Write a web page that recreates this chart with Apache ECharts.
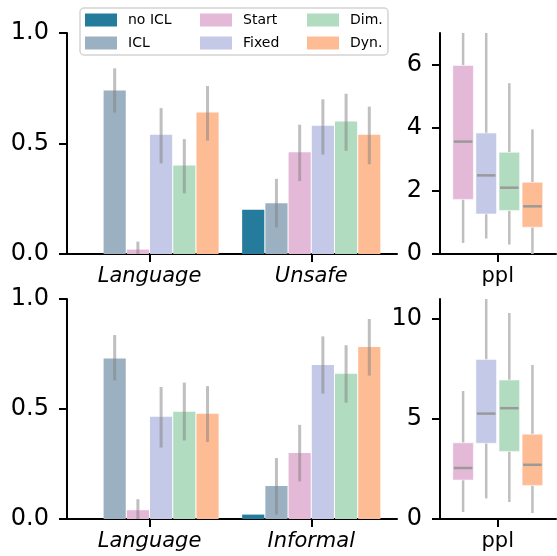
<!DOCTYPE html>
<html>
<head>
<meta charset="utf-8">
<script src="https://cdn.jsdelivr.net/npm/echarts@6/dist/echarts.min.js"></script>
<style>
  html, body { margin: 0; padding: 0; background: #fff; }
  #chart { width: 557px; height: 556px; }
</style>
</head>
<body>
<div id="chart"></div>
<script>
// methods and palette
const methods = ['no ICL', 'ICL', 'Start', 'Fixed', 'Dim.', 'Dyn.'];
const colors = ['#257b9c', '#9bb0c1', '#e4b9d8', '#c3c9e6', '#b1dcc0', '#febc95'];

const topCats = ['Language', 'Unsafe'];
const bottomCats = ['Language', 'Informal'];

// top panel: mean per method, per category
const topMean = [[0, 0.20], [0.74, 0.23], [0.02, 0.46], [0.54, 0.58], [0.40, 0.60], [0.64, 0.54]];
const topLow = [[null, null], [0.64, 0.12], [0, 0.33], [0.41, 0.45], [0.275, 0.467], [0.513, 0.406]];
const topHigh = [[null, null], [0.84, 0.34], [0.056, 0.585], [0.66, 0.70], [0.52, 0.725], [0.76, 0.667]];

// bottom panel
const bottomMean = [[0, 0.02], [0.73, 0.15], [0.04, 0.30], [0.465, 0.70], [0.487, 0.66], [0.478, 0.782]];
const bottomLow = [[null, null], [0.63, 0.02], [0, 0.171], [0.325, 0.57], [0.357, 0.529], [0.35, 0.652]];
const bottomHigh = [[null, null], [0.836, 0.277], [0.09, 0.428], [0.60, 0.83], [0.62, 0.79], [0.604, 0.909]];

// ppl boxplots: [low, q1, median, q3, high] for Start, Fixed, Dim., Dyn.
const pplTop = [[0.35, 1.73, 3.56, 5.97, 7.0], [0.49, 1.27, 2.49, 3.83, 7.0], [0.30, 1.38, 2.10, 3.22, 5.41], [0, 0.85, 1.51, 2.27, 3.95]];
const pplBottom = [[0.35, 1.95, 2.55, 3.81, 6.4], [1.03, 3.79, 5.27, 7.97, 11.0], [0.85, 3.38, 5.54, 6.95, 10.3], [0.3, 1.68, 2.71, 4.24, 7.7]];

const scoreTicks = [0, 0.5, 1.0];
const pplTopTicks = [0, 2, 4, 6];
const pplBottomTicks = [0, 5, 10];

const FONT = 'DejaVu Sans';
const slot = 0.1435;
const barW = 0.137;
const errColor = 'rgba(128,128,128,0.5)';

function barSeries(grid, mean, low, high, cats) {
  return methods.map((m, k) => ({
    type: 'custom',
    name: m,
    xAxisIndex: grid,
    yAxisIndex: grid,
    itemStyle: { color: colors[k] },
    encode: { x: 0, y: 1 },
    data: cats.map((c, i) => [i, mean[k][i]]),
    renderItem: function (params, api) {
      const i = params.dataIndex;
      const cx = api.value(0) + (k - 2.5) * slot;
      const top = api.coord([cx, api.value(1)]);
      const base = api.coord([cx, 0]);
      const w = api.size([barW, 0])[0];
      const children = [{
        type: 'rect',
        shape: { x: top[0] - w / 2, y: top[1], width: w, height: base[1] - top[1] },
        style: { fill: colors[k] }
      }];
      if (low[k][i] != null) {
        const p1 = api.coord([cx, low[k][i]]);
        const p2 = api.coord([cx, high[k][i]]);
        children.push({
          type: 'line',
          shape: { x1: p1[0], y1: p1[1], x2: p2[0], y2: p2[1] },
          style: { stroke: errColor, lineWidth: 3 }
        });
      }
      return { type: 'group', children: children };
    }
  }));
}

function boxSeries(grid, stats) {
  return stats.map((s, j) => ({
    type: 'custom',
    name: methods[j + 2],
    xAxisIndex: grid,
    yAxisIndex: grid,
    itemStyle: { color: colors[j + 2] },
    encode: { x: 0, y: [1, 2, 3, 4, 5] },
    data: [[j].concat(s)],
    renderItem: function (params, api) {
      const x = api.value(0);
      const w = api.size([0.89, 0])[0];
      const lo = api.coord([x, api.value(1)]);
      const q1 = api.coord([x, api.value(2)]);
      const md = api.coord([x, api.value(3)]);
      const q3 = api.coord([x, api.value(4)]);
      const hi = api.coord([x, api.value(5)]);
      return {
        type: 'group',
        children: [
          { type: 'line', shape: { x1: lo[0], y1: lo[1], x2: q1[0], y2: q1[1] }, style: { stroke: '#bfbfbf', lineWidth: 2.5 } },
          { type: 'line', shape: { x1: q3[0], y1: q3[1], x2: hi[0], y2: hi[1] }, style: { stroke: '#bfbfbf', lineWidth: 2.5 } },
          { type: 'rect', shape: { x: q3[0] - w / 2, y: q3[1], width: w, height: q1[1] - q3[1] },
            style: { fill: colors[j + 2], stroke: 'rgba(255,255,255,0.5)', lineWidth: 1 } },
          { type: 'line', shape: { x1: md[0] - w / 2 + 1, y1: md[1], x2: md[0] + w / 2 - 1, y2: md[1] }, style: { stroke: '#9a9a9a', lineWidth: 2.5 } }
        ]
      };
    }
  }));
}

const axisLine = { show: true, onZero: false, lineStyle: { color: '#000', width: 2 } };
const axisTick = (vals) => ({ show: true, length: 8, lineStyle: { color: '#000', width: 2 }, customValues: vals });

function catAxis(grid, cats) {
  return {
    type: 'value', gridIndex: grid, min: -0.51, max: 1.53,
    axisLine: axisLine, splitLine: { show: false },
    axisTick: axisTick([0, 1]),
    axisLabel: { customValues: [0, 1], formatter: (v) => cats[Math.round(v)], margin: 12,
      fontFamily: FONT, fontSize: 21, fontStyle: 'italic', color: '#000' }
  };
}

function pplAxis(grid) {
  return {
    type: 'value', gridIndex: grid, min: -1, max: 4.02,
    axisLine: axisLine, splitLine: { show: false },
    axisTick: axisTick([1.5]),
    axisLabel: { customValues: [1.5], formatter: () => 'ppl', margin: 12,
      fontFamily: FONT, fontSize: 21, color: '#000' }
  };
}

function yAxis(grid, max, ticks, digits) {
  return {
    type: 'value', gridIndex: grid, min: 0, max: max,
    axisLine: axisLine, splitLine: { show: false },
    axisTick: axisTick(ticks),
    axisLabel: { customValues: ticks, formatter: (v) => v.toFixed(digits), margin: 18,
      fontFamily: FONT, fontSize: 24, color: '#000' }
  };
}

const legendCols = [85, 200, 307];

const option = {
  animation: false,
  backgroundColor: '#fff',
  grid: [
    { left: 67, top: 33, width: 330, height: 221 },
    { left: 440, top: 33, width: 116, height: 221 },
    { left: 67, top: 299, width: 330, height: 220 },
    { left: 440, top: 299, width: 116, height: 220 }
  ],
  xAxis: [catAxis(0, topCats), pplAxis(1), catAxis(2, bottomCats), pplAxis(3)],
  yAxis: [
    yAxis(0, 1, scoreTicks, 1),
    yAxis(1, 7, pplTopTicks, 0),
    yAxis(2, 1, scoreTicks, 1),
    yAxis(3, 11, pplBottomTicks, 0)
  ],
  graphic: [{
    type: 'rect', z: 3,
    shape: { x: 80, y: 8, width: 308, height: 47, r: 4 },
    style: { fill: 'rgba(255,255,255,0.85)', stroke: '#d4d4d4', lineWidth: 1.5 }
  }],
  legend: legendCols.map((left, c) => ({
    orient: 'vertical', left: left, top: 13, padding: 0, z: 5,
    selectedMode: false, icon: 'rect', itemWidth: 32, itemHeight: 13, itemGap: 9,
    data: [methods[c * 2], methods[c * 2 + 1]],
    textStyle: { fontFamily: FONT, fontSize: 14, color: '#000', padding: [0, 0, 0, 6] }
  })),
  series: [].concat(
    barSeries(0, topMean, topLow, topHigh, topCats),
    boxSeries(1, pplTop),
    barSeries(2, bottomMean, bottomLow, bottomHigh, bottomCats),
    boxSeries(3, pplBottom)
  )
};

const chart = echarts.init(document.getElementById('chart'));
chart.setOption(option);
</script>
</body>
</html>
